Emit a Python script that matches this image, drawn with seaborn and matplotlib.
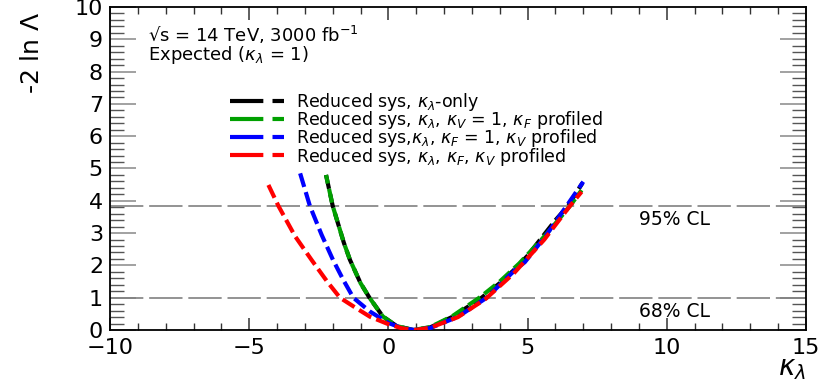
import matplotlib
matplotlib.use("Agg")
import matplotlib.pyplot as plt
from matplotlib.lines import Line2D
from matplotlib.ticker import MultipleLocator
import seaborn as sns
import pandas as pd

# ---- data ----
kl_only_x = [-2.24, -2.0, -1.6, -1.38, -1.0, -0.68, -0.2, 0.3, 0.9, 1.5, 2.33, 3.35, 4.0, 4.5, 5.0, 5.5, 6.0, 6.45, 6.97]
kl_only_y = [4.80, 3.84, 2.70, 2.17, 1.45, 1.0, 0.42, 0.12, 0.0, 0.08, 0.42, 1.0, 1.45, 1.85, 2.3, 2.85, 3.4, 3.84, 4.55]

kv1_x = [-2.24, -2.0, -1.6, -1.38, -1.0, -0.68, -0.2, 0.3, 0.9, 1.5, 2.3, 3.3, 4.0, 4.7, 5.5, 6.0, 6.52, 6.94]
kv1_y = [4.80, 3.84, 2.70, 2.17, 1.45, 1.0, 0.42, 0.12, 0.0, 0.09, 0.43, 1.02, 1.5, 2.06, 2.8, 3.3, 3.84, 4.33]

kf1_x = [-3.17, -2.82, -2.4, -1.99, -1.62, -1.26, -0.66, 0.0, 0.5, 0.95, 1.5, 2.5, 3.53, 4.55, 4.9, 5.63, 6.40, 7.0]
kf1_y = [4.85, 3.84, 2.95, 2.17, 1.55, 1.0, 0.57, 0.22, 0.05, 0.0, 0.06, 0.41, 1.0, 1.86, 2.1, 2.89, 3.84, 4.59]

all_x = [-4.31, -3.95, -3.35, -2.76, -2.2, -1.74, -1.2, -0.66, 0.0, 0.5, 0.95, 1.5, 2.5, 3.5, 4.5, 5.6, 6.52, 6.94]
all_y = [4.49, 3.84, 2.9, 2.17, 1.5, 1.0, 0.7, 0.41, 0.18, 0.05, 0.0, 0.07, 0.4, 0.97, 1.75, 2.8, 3.84, 4.28]

labels = [
    r"Reduced sys, $\kappa_{\lambda}$-only",
    r"Reduced sys, $\kappa_{\lambda}$, $\kappa_{V}$ = 1, $\kappa_{F}$ profiled",
    r"Reduced sys,$\kappa_{\lambda}$, $\kappa_{F}$ = 1, $\kappa_{V}$ profiled",
    r"Reduced sys, $\kappa_{\lambda}$, $\kappa_{F}$, $\kappa_{V}$ profiled",
]
colors = ["#000000", "#00a000", "#0000ff", "#ff0000"]
cl_levels = [1.0, 3.84]
cl_labels = ["68% CL", "95% CL"]
x_ticks = [-10, -5, 0, 5, 10, 15]
x_tick_labels = ["\u221210", "\u22125", "0", "5", "10", "15"]
y_ticks = list(range(0, 11))

sns.set_theme(style="white")
plt.rcParams["font.family"] = ["DejaVu Sans"]
plt.rcParams["mathtext.fontset"] = "dejavusans"
plt.rcParams["text.color"] = "black"
plt.rcParams["xtick.labelcolor"] = "black"
plt.rcParams["ytick.labelcolor"] = "black"
plt.rcParams["axes.labelcolor"] = "black"

fig = plt.figure(figsize=(8.3, 3.82), dpi=100)
ax = fig.add_axes([110 / 830, 1 - 330 / 382, 696 / 830, 323 / 382])

series = [(kl_only_x, kl_only_y), (kv1_x, kv1_y), (all_x, all_y), (kf1_x, kf1_y)]
order = [0, 1, 3, 2]
offsets = [0.0, 6.0, 0.0, 0.0]
for (xs, ys), idx in zip(series, order):
    df = pd.DataFrame({"x": xs, "y": ys})
    sns.lineplot(data=df, x="x", y="y", ax=ax, sort=False, estimator=None,
                 color=colors[idx], linewidth=3.0, dashes=False, zorder=3 + idx)
    ln = ax.lines[-1]
    ln.set_linestyle((offsets[idx], (3.4, 1.3)))
    ln.set_dash_capstyle("butt")

for lvl, lab in zip(cl_levels, cl_labels):
    ax.axhline(lvl, color="#808080", linewidth=1.2, dashes=(20, 3.5), zorder=1)
    ax.text(9.0, lvl - 0.42, lab, fontsize=13.5, color="black", va="center", ha="left")

ax.set_xlim(-10, 15)
ax.set_ylim(0, 10)
ax.set_xticks(x_ticks)
ax.set_yticks(y_ticks)
ax.set_xticklabels(x_tick_labels)
ax.xaxis.set_minor_locator(MultipleLocator(1))
ax.yaxis.set_minor_locator(MultipleLocator(0.2))
ax.tick_params(axis="x", which="major", direction="in", length=9, width=1.1,
               top=True, bottom=True, labelsize=16, pad=6, color="#333333")
ax.tick_params(axis="x", which="minor", direction="in", length=5, width=1.0,
               top=True, bottom=True, color="#333333")
ax.tick_params(axis="y", which="major", direction="in", length=19, width=1.1,
               left=True, right=True, labelsize=16, pad=5, color="#888888")
ax.tick_params(axis="y", which="minor", direction="in", length=10, width=1.0,
               left=True, right=True, color="#555555")
for sp in ax.spines.values():
    sp.set_color("black")
    sp.set_linewidth(1.3)

ax.set_xlabel(r"$\kappa_{\lambda}$", fontsize=20, loc="right")
ax.xaxis.set_label_coords(1.0, -0.075)
ax.set_ylabel(r"-2 ln $\Lambda$", fontsize=18, loc="top")
ax.yaxis.set_label_coords(-0.095, 0.985)

ax.text(0.055, 0.912, "\u221as = 14 TeV, 3000 fb$^{-1}$", transform=ax.transAxes,
        fontsize=13, va="center", ha="left")
ax.text(0.055, 0.852, r"Expected ($\kappa_{\lambda}$ = 1)", transform=ax.transAxes,
        fontsize=13, va="center", ha="left")

handles = [Line2D([], [], color=c, linewidth=3.0, dashes=(8, 2.2), dash_capstyle="butt")
           for c in colors]
leg = ax.legend(handles, labels, loc="upper left", bbox_to_anchor=(0.172, 0.74),
                frameon=False, fontsize=12.5, handlelength=3.1, handletextpad=0.7,
                labelspacing=-0.22, borderpad=0, borderaxespad=0)

fig.savefig("out.png", dpi=100)
